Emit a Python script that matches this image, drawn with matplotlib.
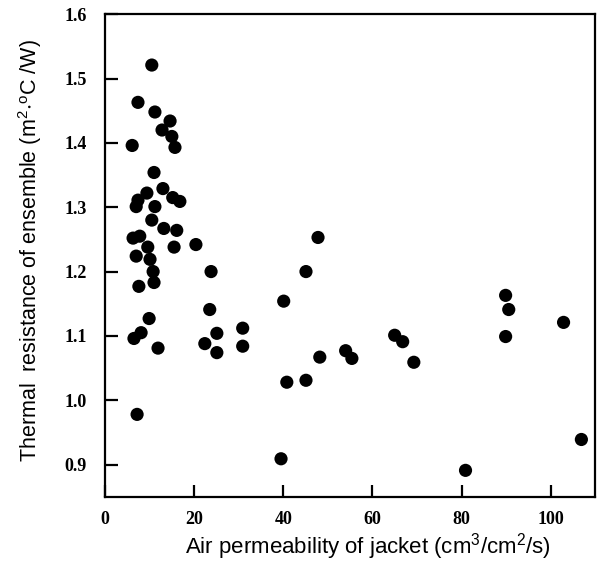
import matplotlib
matplotlib.use("Agg")
import matplotlib.pyplot as plt

plt.rcParams["mathtext.default"] = "regular"

# Air permeability of jacket (cm3/cm2/s)
permeability = [
    10.5, 7.4, 11.2, 14.6, 12.8, 15.0, 15.7, 6.1, 11.0, 13.0,
    9.4, 7.4, 7.0, 11.2, 15.2, 16.8, 10.5, 13.2, 16.1, 6.3,
    7.8, 9.6, 15.5, 20.4, 7.0, 10.1, 10.8, 23.8, 7.6, 11.0,
    45.1, 47.8, 40.1, 23.5, 9.9, 8.1, 6.5, 11.9, 22.4, 25.1,
    25.1, 30.9, 30.9, 7.2, 40.8, 45.1, 48.2, 54.0, 55.4, 65.0,
    66.8, 69.3, 89.9, 90.6, 89.9, 102.9, 80.9, 106.9, 39.5,
]
# Thermal resistance of ensemble (m2 C/W)
resistance = [
    1.521, 1.463, 1.448, 1.434, 1.420, 1.410, 1.393, 1.396, 1.354, 1.329,
    1.322, 1.311, 1.301, 1.301, 1.315, 1.309, 1.280, 1.267, 1.264, 1.252,
    1.255, 1.238, 1.238, 1.242, 1.224, 1.219, 1.200, 1.200, 1.177, 1.183,
    1.200, 1.253, 1.154, 1.141, 1.127, 1.105, 1.096, 1.081, 1.088, 1.104,
    1.074, 1.112, 1.084, 0.978, 1.028, 1.031, 1.067, 1.077, 1.065, 1.101,
    1.091, 1.059, 1.163, 1.141, 1.099, 1.121, 0.891, 0.939, 0.909,
]

x_ticks = [0, 20, 40, 60, 80, 100]
y_ticks = [0.9, 1.0, 1.1, 1.2, 1.3, 1.4, 1.5, 1.6]

fig = plt.figure(figsize=(6.0, 5.69), dpi=100)
ax = fig.add_axes([0.175, 0.127, 0.817, 0.848])

ax.scatter(permeability, resistance, s=90, color="black", edgecolors="none", zorder=3)

ax.set_xlim(0, 110)
ax.set_ylim(0.85, 1.6)
ax.set_xticks(x_ticks)
ax.set_yticks(y_ticks)
ax.set_xticklabels([str(t) for t in x_ticks])
ax.set_yticklabels([f"{t:.1f}" for t in y_ticks])

for sp in ax.spines.values():
    sp.set_linewidth(1.6)

ax.tick_params(axis="both", direction="in", length=9, width=1.6,
               top=False, right=False)
ax.tick_params(axis="y", pad=13)
ax.tick_params(axis="x", pad=10)
for lab in ax.get_xticklabels() + ax.get_yticklabels():
    lab.set_fontfamily("Liberation Serif")
    lab.set_fontweight("bold")
    lab.set_fontsize(13)

ax.set_xlabel(r"Air permeability of jacket (cm$^3$/cm$^2$/s)",
              fontfamily="Liberation Sans", fontsize=16)
ax.set_ylabel(r"Thermal  resistance of ensemble (m$^2$$\cdot$$^{o}$C /W)",
              fontfamily="Liberation Sans", fontsize=15.5)
ax.xaxis.set_label_coords(0.537, -0.072)
ax.yaxis.set_label_coords(-0.125, 0.51)

fig.savefig("out.png", dpi=100)
